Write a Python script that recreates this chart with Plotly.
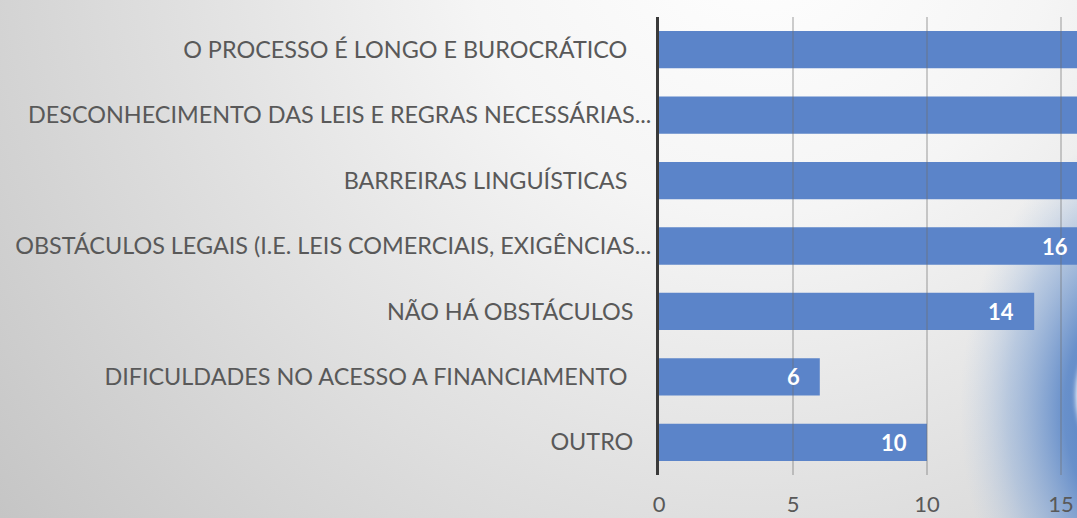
import base64
import plotly.graph_objects as go

# Categories listed top to bottom as shown
categories = [
    "O PROCESSO É LONGO E BUROCRÁTICO",
    "DESCONHECIMENTO DAS LEIS E REGRAS NECESSÁRIAS...",
    "BARREIRAS LINGUÍSTICAS",
    "OBSTÁCULOS LEGAIS (I.E. LEIS COMERCIAIS, EXIGÊNCIAS...",
    "NÃO HÁ OBSTÁCULOS",
    "DIFICULDADES NO ACESSO A FINANCIAMENTO",
    "OUTRO",
]
# top three bars run off the cropped chart; their values are estimates (>16)
values = [24, 21, 19, 16, 14, 6, 10]
# trailing padding (non-breaking spaces) seen after some labels
label_pad = [4, 0, 4, 0, 3, 4, 3]
x_ticks = [0, 5, 10, 15]

W, H = 1077, 518
L, R, T, B = 659, 0, 17, 43
pw, ph = W - L - R, H - T - B
x_max = pw / 26.8

svg = f"""<svg xmlns='http://www.w3.org/2000/svg' width='{W}' height='{H}'>
<defs>
<radialGradient id='g1' gradientUnits='userSpaceOnUse' cx='760' cy='-80' r='980'>
<stop offset='0' stop-color='#ffffff'/>
<stop offset='0.3' stop-color='#f5f5f5'/>
<stop offset='1' stop-color='#c4c4c4'/>
</radialGradient>
<radialGradient id='g2'>
<stop offset='0' stop-color='#3a6fbf' stop-opacity='1'/>
<stop offset='0.45' stop-color='#5b87c8' stop-opacity='0.9'/>
<stop offset='0.75' stop-color='#8cacd8' stop-opacity='0.5'/>
<stop offset='1' stop-color='#b8cbe4' stop-opacity='0'/>
</radialGradient>
<filter id='b'><feGaussianBlur stdDeviation='2.5'/></filter>
</defs>
<rect width='{W}' height='{H}' fill='url(#g1)'/>
<ellipse cx='1150' cy='410' rx='190' ry='280' fill='url(#g2)'/>
<ellipse cx='1112' cy='395' rx='36' ry='60' fill='#ffffff' filter='url(#b)'/>
</svg>"""
bg_uri = "data:image/svg+xml;base64," + base64.b64encode(svg.encode()).decode()

labels = [c + "\u00a0" * p for c, p in zip(categories, label_pad)]

fig = go.Figure()
fig.add_trace(go.Bar(
    y=labels,
    x=values,
    orientation="h",
    width=0.57,
    marker=dict(color="#5b84c9", line=dict(width=0)),
    cliponaxis=True,
    hoverinfo="x+y",
))

# value labels inside the bar end (those past the visible axis are not shown);
# x given as fraction of the linear axis range [0, x_max]
annotations = []
for lab, v in zip(labels, values):
    if v <= 16:
        annotations.append(dict(
            x=v / x_max, y=lab, xref="paper", yref="y", text=str(v), showarrow=False,
            xanchor="right", yanchor="middle", xshift=-18,
            font=dict(family="Lato, sans-serif", size=22, color="#ffffff", weight="bold")))

shapes = []
for t in x_ticks[1:]:
    shapes.append(dict(type="line", xref="x", yref="paper", x0=t, x1=t, y0=0, y1=1,
                       line=dict(color="rgba(110,110,110,0.45)", width=1.5), layer="above"))

fig.update_layout(
    width=W, height=H,
    margin=dict(l=L, r=R, t=T, b=B, pad=0),
    paper_bgcolor="rgba(0,0,0,0)",
    plot_bgcolor="rgba(0,0,0,0)",
    showlegend=False,
    bargap=0.43,
    shapes=shapes,
    annotations=annotations,
    images=[dict(source=bg_uri, xref="paper", yref="paper",
                 x=-L / pw, y=1 + T / ph, sizex=W / pw, sizey=H / ph,
                 xanchor="left", yanchor="top", sizing="stretch", layer="below")],
    xaxis=dict(range=[0, x_max], tickvals=x_ticks, showgrid=False, zeroline=False,
               showline=False, ticks="", ticklabelstandoff=14, automargin=False,
               tickfont=dict(family="Lato, sans-serif", size=22, color="#595959")),
    yaxis=dict(autorange="reversed", showgrid=False, zeroline=False, showline=True,
               linecolor="#3a3a3a", linewidth=3, ticks="", ticklabelstandoff=0,
               automargin=False,
               tickfont=dict(family="Lato, sans-serif", size=23.4, color="#595959")),
)

fig.write_html("out.html", config={"displayModeBar": False},
               post_script="document.body.style.margin='0';document.body.style.overflow='hidden';")
